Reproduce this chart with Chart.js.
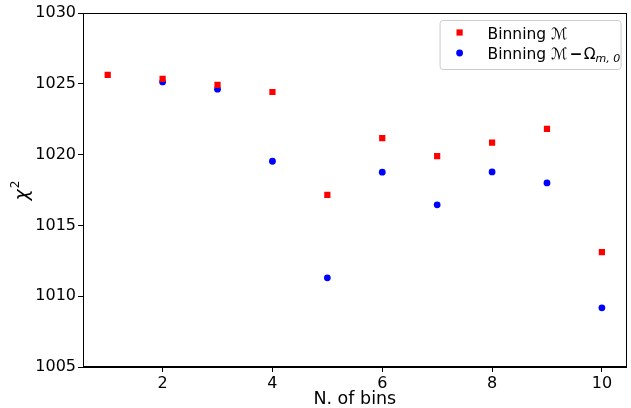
<!DOCTYPE html>
<html>
<head>
<meta charset="utf-8">
<script src="https://cdn.jsdelivr.net/npm/chart.js@4"></script>
<style>
html,body{margin:0;padding:0;background:#fff;}
#wrap{width:631px;height:408px;}
</style>
</head>
<body>
<div id="wrap"><canvas id="c" width="631" height="408"></canvas></div>
<script>
const bins = [1, 2, 3, 4, 5, 6, 7, 8, 9, 10];
const chi2M = [1025.63, 1025.34, 1024.92, 1024.42, 1017.16, 1021.16, 1019.89, 1020.85, 1021.81, 1013.11];
const binsOm = [2, 3, 4, 5, 6, 7, 8, 9, 10];
const chi2MOm = [1025.13, 1024.62, 1019.53, 1011.30, 1018.76, 1016.45, 1018.78, 1018.00, 1009.18];
const xTicks = [2, 4, 6, 8, 10];
const yTicks = [1005, 1010, 1015, 1020, 1025, 1030];
const labelBase = 'Binning ';
const calM = '\u2133';
const minusSign = '\u2212';
const omega = '\u03A9';
const subLabel = 'm, 0';
const xTitle = 'N. of bins';
const yTitleMain = '\u03C7';
const yTitleSup = '2';

const FONT = '"DejaVu Sans", sans-serif';

const framePlugin = {
  id: 'frame',
  afterDraw(chart) {
    const {ctx, chartArea: a} = chart;
    ctx.save();
    ctx.strokeStyle = '#000';
    ctx.lineWidth = 1;
    ctx.strokeRect(Math.round(a.left) + 0.5, Math.round(a.top) + 0.5,
                   Math.round(a.right - a.left) - 1, Math.round(a.bottom - a.top) - 1);
    ctx.restore();
  }
};

const yTitlePlugin = {
  id: 'yTitleMath',
  afterDraw(chart) {
    const {ctx, chartArea: a} = chart;
    const cy = (a.top + a.bottom) / 2;
    ctx.save();
    ctx.fillStyle = '#000';
    ctx.textBaseline = 'alphabetic';
    ctx.textAlign = 'left';
    ctx.font = 'italic 19px ' + FONT;
    const w1 = ctx.measureText(yTitleMain).width;
    ctx.font = '12px ' + FONT;
    const w2 = ctx.measureText(yTitleSup).width;
    const total = w1 + w2 + 1;
    ctx.translate(27.5, cy + total / 2 + 0.5);
    ctx.rotate(-Math.PI / 2);
    ctx.font = 'italic 19px ' + FONT;
    ctx.fillText(yTitleMain, 0, 0);
    ctx.font = '12px ' + FONT;
    ctx.fillText(yTitleSup, w1 + 1, -8.5);
    ctx.restore();
  }
};

const legendPlugin = {
  id: 'mplLegend',
  afterDraw(chart) {
    const {ctx, chartArea: a} = chart;
    const w = 181, h = 49;
    const x0 = a.right - 6 - w, y0 = a.top + 7;
    ctx.save();
    ctx.beginPath();
    if (ctx.roundRect) ctx.roundRect(x0 + 0.5, y0 + 0.5, w, h, 3); else ctx.rect(x0 + 0.5, y0 + 0.5, w, h);
    ctx.fillStyle = 'rgba(255,255,255,0.8)';
    ctx.fill();
    ctx.strokeStyle = '#cccccc';
    ctx.lineWidth = 1;
    ctx.stroke();
    const mx = x0 + 20;
    const ys = [y0 + 12.5, y0 + 33];
    ctx.fillStyle = '#ff0000';
    ctx.fillRect(mx - 3.1, ys[0] - 3.1, 6.2, 6.2);
    ctx.fillStyle = '#0000ff';
    ctx.beginPath(); ctx.arc(mx, ys[1], 3.4, 0, Math.PI * 2); ctx.fill();
    ctx.fillStyle = '#000';
    ctx.textBaseline = 'alphabetic';
    ctx.textAlign = 'left';
    const tx = x0 + 48;
    const base = [ys[0] + 6, ys[1] + 6];
    const f = '15.5px ' + FONT;
    ctx.font = f;
    ctx.fillText(labelBase + calM, tx, base[0]);
    let cx = tx;
    ctx.fillText(labelBase + calM, cx, base[1]);
    cx += ctx.measureText(labelBase + calM).width + 2;
    ctx.font = 'bold 15.5px ' + FONT;
    ctx.fillText(minusSign, cx, base[1]);
    cx += ctx.measureText(minusSign).width + 1;
    ctx.font = f;
    ctx.fillText(omega, cx, base[1]);
    cx += ctx.measureText(omega).width;
    ctx.font = 'italic 11px ' + FONT;
    ctx.fillText(subLabel, cx, base[1] + 3);
    ctx.restore();
  }
};

new Chart(document.getElementById('c'), {
  type: 'scatter',
  data: {
    datasets: [
      {
        label: labelBase + calM,
        data: bins.map((b, i) => ({x: b, y: chi2M[i]})),
        pointStyle: 'rect',
        pointRadius: 4.4,
        pointBorderWidth: 0,
        backgroundColor: '#ff0000',
        borderColor: '#ff0000'
      },
      {
        label: labelBase + calM + minusSign + omega + subLabel,
        data: binsOm.map((b, i) => ({x: b, y: chi2MOm[i]})),
        pointStyle: 'circle',
        pointRadius: 3.4,
        pointBorderWidth: 0,
        backgroundColor: '#0000ff',
        borderColor: '#0000ff'
      }
    ]
  },
  options: {
    responsive: false,
    animation: false,
    devicePixelRatio: 1,
    layout: {padding: {top: 13, right: 4, left: 0, bottom: 0}},
    plugins: {legend: {display: false}, tooltip: {enabled: false}},
    elements: {point: {hoverRadius: 4}},
    scales: {
      x: {
        type: 'linear',
        min: 0.55,
        max: 10.45,
        afterBuildTicks(s) { s.ticks = xTicks.map(v => ({value: v})); },
        afterFit(s) { s.height = 41; },
        grid: {drawOnChartArea: false, drawTicks: true, tickLength: 5, color: '#000', tickWidth: 1},
        border: {display: true, color: '#000', width: 1},
        ticks: {color: '#000', font: {family: FONT, size: 16}, padding: 2, maxRotation: 0, callback: v => String(v)},
        title: {display: true, text: xTitle, color: '#000', font: {family: FONT, size: 17.5}, padding: {top: 0, bottom: -1.5}}
      },
      y: {
        type: 'linear',
        min: 1005,
        max: 1030,
        afterBuildTicks(s) { s.ticks = yTicks.map(v => ({value: v})); },
        afterFit(s) { s.width = 83; },
        grid: {drawOnChartArea: false, drawTicks: true, tickLength: 5, color: '#000', tickWidth: 1},
        border: {display: true, color: '#000', width: 1},
        ticks: {color: '#000', font: {family: FONT, size: 16}, padding: 2, callback: v => String(v)},
        title: {display: false}
      }
    }
  },
  plugins: [framePlugin, yTitlePlugin, legendPlugin]
});
</script>
</body>
</html>
